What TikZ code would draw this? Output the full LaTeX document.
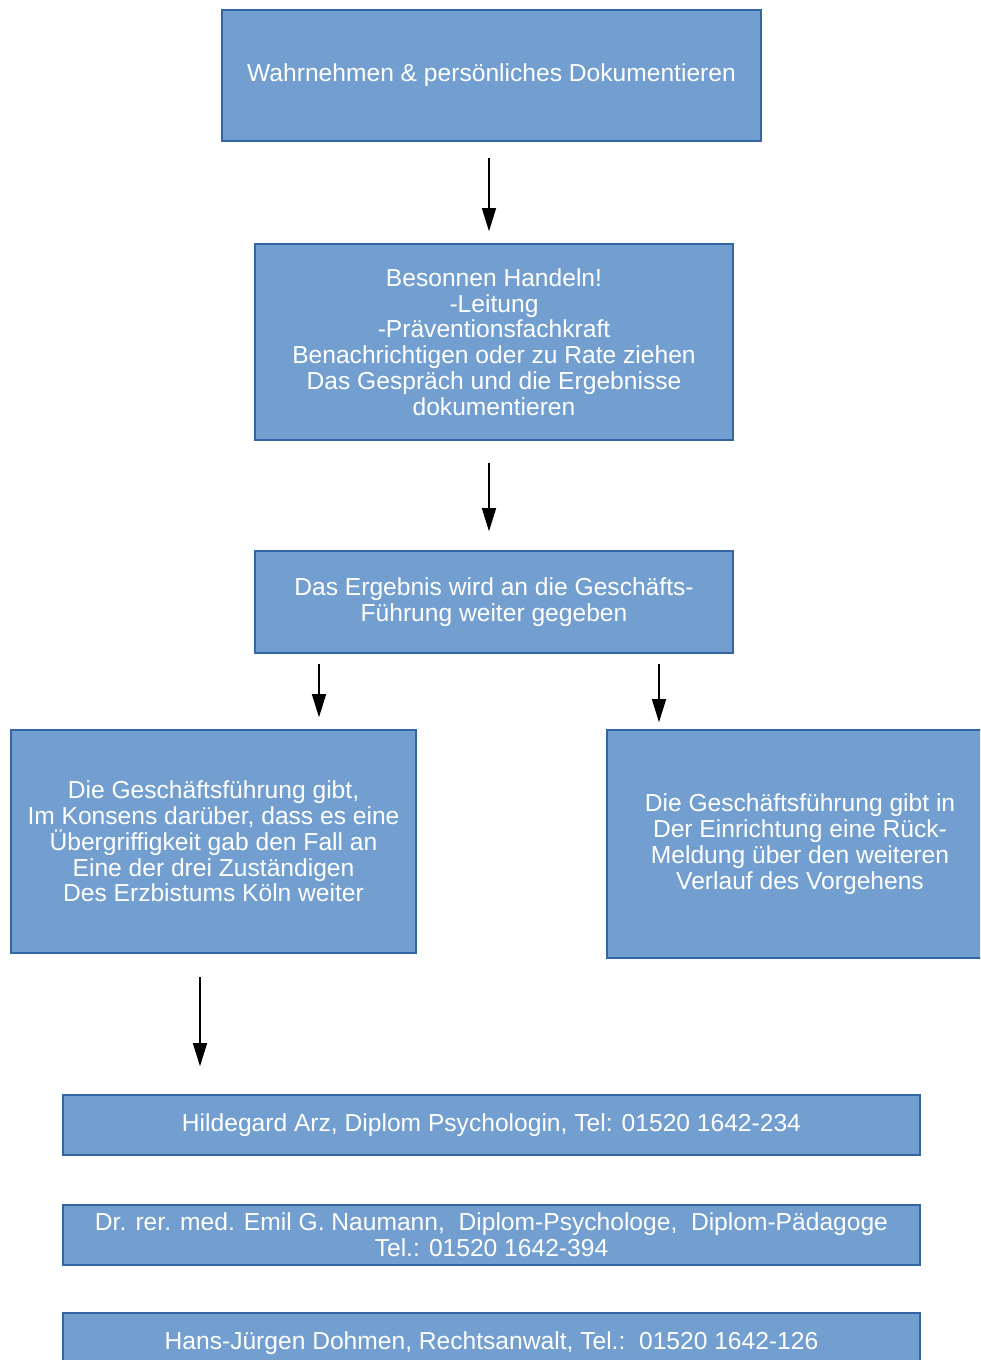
\documentclass[tikz,border=0pt]{standalone}
\usepackage{fontspec}
\setmainfont{Liberation Sans}
\usetikzlibrary{arrows.meta}
\definecolor{boxfill}{HTML}{729FCF}
\definecolor{boxline}{HTML}{3465A4}
\begin{document}
\begin{tikzpicture}[
        stepbox/.style={rectangle, fill=boxfill, draw=boxline, line width=0.9pt, text=white, align=center, inner sep=0pt,
                        font=\fontsize{14}{14.7}\selectfont},
        arr/.style={-{Triangle[length=0.46cm, width=0.28cm]}, line width=0.8pt},
      ]
      \clip (0,0) rectangle (19.6,-27.2);
      %Nodes
      \node[stepbox, minimum width=10.78cm, minimum height=2.62cm] (wahr)    at (9.83,-1.51)  {Wahrnehmen \& persönliches Dokumentieren};
      \node[stepbox, minimum width=9.56cm,  minimum height=3.92cm] (handeln) at (9.88,-6.84)  {Besonnen Handeln!\\-Leitung\\-Präventionsfachkraft\\Benachrichtigen oder zu Rate ziehen\\Das Gespräch und die Ergebnisse\\dokumentieren};
      \node[stepbox, minimum width=9.56cm,  minimum height=2.04cm] (ergebnis) at (9.88,-12.04) {Das Ergebnis wird an die Geschäfts-\\Führung weiter gegeben};

      \node[stepbox, minimum width=8.10cm,  minimum height=4.46cm] (gfweiter) at (4.27,-16.83) {Die Geschäftsführung gibt,\\Im Konsens darüber, dass es eine\\Übergriffigkeit gab den Fall an\\Eine der drei Zuständigen\\Des Erzbistums Köln weiter};
      \node[stepbox, minimum width=7.72cm,  minimum height=4.56cm] (gfrueck)  at (16.0,-16.88) {Die Geschäftsführung gibt in\\Der Einrichtung eine Rück-\\Meldung über den weiteren\\Verlauf des Vorgehens};

      \node[stepbox, minimum width=17.14cm, minimum height=1.2cm] (arz)      at (9.83,-22.5)  {Hildegard Arz, Diplom Psychologin, Tel: 01520 1642-234};
      \node[stepbox, minimum width=17.14cm, minimum height=1.2cm] (naumann)  at (9.83,-24.7)  {Dr. rer. med. Emil G. Naumann,\ \ Diplom-Psychologe,\ \ Diplom-Pädagoge\\Tel.: 01520 1642-394};
      \node[stepbox, minimum width=17.14cm, minimum height=1.2cm] (dohmen)   at (9.83,-26.86) {Hans-Jürgen Dohmen, Rechtsanwalt, Tel.:\ \ 01520 1642-126};

      %Lines
      \draw[arr, shorten <=0.32cm, shorten >=0.24cm] ([xshift=-0.05cm]wahr.south) -- ([xshift=-0.05cm]wahr.south |- handeln.north);
      \draw[arr, shorten <=0.44cm, shorten >=0.38cm] ([xshift=-0.1cm]handeln.south) -- ([xshift=-0.1cm]handeln.south |- ergebnis.north);

      \draw[arr, shorten <=0.2cm, shorten >=0.24cm] ([xshift=2.11cm]gfweiter.north |- ergebnis.south) -- ([xshift=2.11cm]gfweiter.north);
      \draw[arr, shorten <=0.2cm, shorten >=0.14cm] ([xshift=-2.82cm]gfrueck.north |- ergebnis.south) -- ([xshift=-2.82cm]gfrueck.north);

      \draw[arr, shorten <=0.46cm, shorten >=0.56cm] ([xshift=-0.27cm]gfweiter.south) -- ([xshift=-0.27cm]gfweiter.south |- arz.north);
    \end{tikzpicture}
\end{document}
